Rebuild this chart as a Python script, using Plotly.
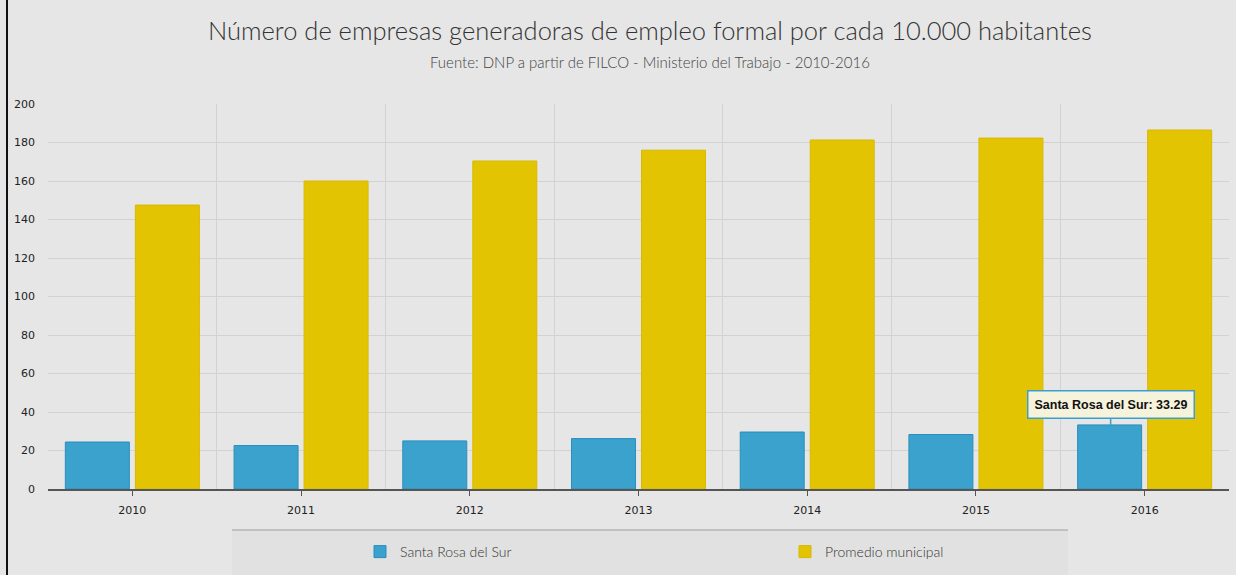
import plotly.graph_objects as go

years = ["2010", "2011", "2012", "2013", "2014", "2015", "2016"]
santa_rosa = [24.4, 22.6, 25.0, 26.2, 29.6, 28.3, 33.29]
promedio = [147.5, 160.0, 170.4, 176.0, 181.3, 182.3, 186.5]
y_ticks = [0, 20, 40, 60, 80, 100, 120, 140, 160, 180, 200]

title = "Número de empresas generadoras de empleo formal por cada 10.000 habitantes"
subtitle = "Fuente: DNP a partir de FILCO - Ministerio del Trabajo - 2010-2016"
tooltip_year = "2016"

W, H = 1236, 575
ML, MR, MT, MB = 48, 7, 104, 86
PW, PH = W - ML - MR, H - MT - MB


def px_x(p):
    return (p - ML) / PW


def px_y(p):
    return (H - MB - p) / PH


BG = "#e6e6e6"
THIN = "Lato"

fig = go.Figure()
fig.add_trace(go.Bar(
    x=years, y=santa_rosa, name="Santa Rosa del Sur",
    marker=dict(color="#3ba1cd", line=dict(color="#2b8ebd", width=1)),
))
fig.add_trace(go.Bar(
    x=years, y=promedio, name="Promedio municipal",
    marker=dict(color="#e3c402", line=dict(color="#d9b900", width=1)),
))

fig.update_layout(
    width=W, height=H,
    margin=dict(l=ML, r=MR, t=MT, b=MB, autoexpand=False),
    paper_bgcolor=BG, plot_bgcolor=BG,
    barmode="group", bargap=0.17, bargroupgap=0.086,
    showlegend=True,
    legend=dict(
        orientation="h", x=px_x(360), xanchor="left",
        y=px_y(552), yanchor="middle",
        entrywidth=380, entrywidthmode="pixels",
        font=dict(family=THIN, size=14, color="#333333", weight=300),
        bgcolor="rgba(0,0,0,0)",
    ),
    xaxis=dict(
        type="category", categoryarray=years, range=[-0.5, 6.5],
        tickson="boundaries", ticks="", showgrid=True,
        gridcolor="#d2d2d2", gridwidth=1,
        showline=True, linecolor="#555555", linewidth=2,
        tickfont=dict(family="DejaVu Sans", size=11, color="#222222"),
        ticklabelstandoff=10,
        zeroline=False, fixedrange=True,
    ),
    xaxis2=dict(
        type="category", categoryarray=years, range=[-0.5, 6.5],
        overlaying="x", anchor="y", side="bottom",
        tickvals=years, ticks="outside", ticklen=6, tickcolor="#555555",
        showticklabels=False, showgrid=False, showline=False,
        zeroline=False,
    ),
    yaxis=dict(
        range=[0, 200], tickvals=y_ticks,
        showgrid=True, gridcolor="#d2d2d2", gridwidth=1,
        zeroline=False, showline=False,
        tickfont=dict(family="DejaVu Sans", size=11, color="#222222"),
        ticklabelstandoff=12,
    ),
)

# invisible trace so the overlay tick axis renders
fig.add_trace(go.Scatter(x=years, y=[None] * len(years), xaxis="x2",
                         showlegend=False, hoverinfo="skip",
                         mode="markers", marker=dict(opacity=0)))

fig.add_annotation(
    text=title, xref="paper", yref="paper",
    x=px_x(650), y=px_y(30), xanchor="center", yanchor="middle",
    showarrow=False,
    font=dict(family=THIN, size=25.5, color="#333333", weight=300),
)
fig.add_annotation(
    text=subtitle, xref="paper", yref="paper",
    x=px_x(650), y=px_y(62), xanchor="center", yanchor="middle",
    showarrow=False,
    font=dict(family=THIN, size=15, color="#444444", weight=300),
)

# tooltip callout on the 2016 Santa Rosa bar
ti = years.index(tooltip_year)
fig.add_annotation(
    text="<b>Santa Rosa del Sur: %.2f</b>" % santa_rosa[ti],
    x=ti, y=santa_rosa[ti], xref="x", yref="y",
    xshift=-34, showarrow=True, arrowhead=0, arrowwidth=1.5,
    arrowcolor="#3a9fcf", ax=0, ay=-20,
    bgcolor="#f6f3dc", bordercolor="#3a9fcf", borderwidth=1.5,
    borderpad=6,
    font=dict(family="Liberation Sans", size=12.5, color="#111111"),
)

# legend panel and left border
fig.add_shape(type="rect", xref="paper", yref="paper",
              x0=px_x(232), x1=px_x(1068), y0=px_y(575), y1=px_y(530),
              fillcolor="#e1e1e1", line=dict(width=0), layer="below")
fig.add_shape(type="line", xref="paper", yref="paper",
              x0=px_x(232), x1=px_x(1068), y0=px_y(530), y1=px_y(530),
              line=dict(color="#b5b5b5", width=1.5))
fig.add_shape(type="line", xref="paper", yref="paper",
              x0=px_x(7), x1=px_x(7), y0=px_y(0), y1=px_y(575),
              line=dict(color="#111111", width=2))

fig.write_html("out.html", config={"displayModeBar": False},
               post_script="document.body.style.margin='0';")
